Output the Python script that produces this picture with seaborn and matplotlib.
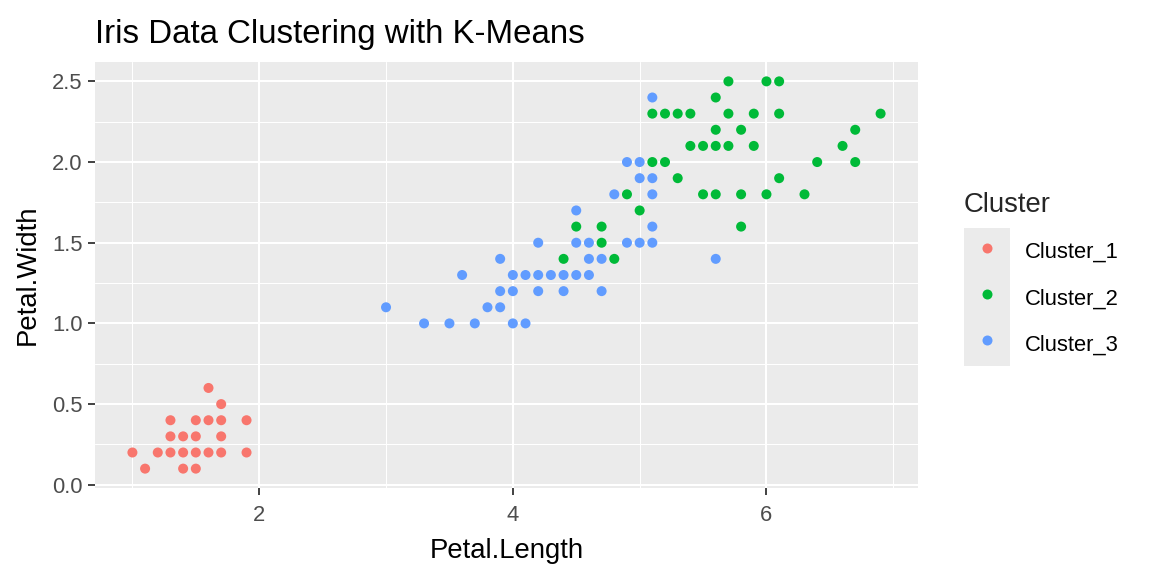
import numpy as np
import pandas as pd
import matplotlib
matplotlib.use("Agg")
import matplotlib.pyplot as plt
import seaborn as sns
from matplotlib.ticker import MultipleLocator
from matplotlib.patches import Rectangle

# points (petal length, petal width) per cluster
c1_length = [1.0, 1.1, 1.2, 1.3, 1.3, 1.3, 1.4, 1.4, 1.4, 1.5, 1.5, 1.5, 1.5,
             1.6, 1.6, 1.6, 1.7, 1.7, 1.7, 1.7, 1.9, 1.9]
c1_width = [0.2, 0.1, 0.2, 0.2, 0.3, 0.4, 0.1, 0.2, 0.3, 0.1, 0.2, 0.3, 0.4,
            0.2, 0.4, 0.6, 0.2, 0.3, 0.4, 0.5, 0.2, 0.4]

c2_length = [4.4, 4.8, 4.7, 4.5, 4.7, 5.8, 5.0,
             4.9, 5.5, 5.6, 5.8, 6.0, 6.3, 5.3, 6.1,
             5.1, 5.2, 6.4, 6.7, 5.4, 5.5, 5.6, 5.7, 5.9, 6.6,
             5.6, 5.8, 6.7, 5.1, 5.2, 5.3, 5.4, 5.7, 5.9, 6.1, 6.9,
             5.6, 5.7, 6.0, 6.1]
c2_width = [1.4, 1.4, 1.5, 1.6, 1.6, 1.6, 1.7,
            1.8, 1.8, 1.8, 1.8, 1.8, 1.8, 1.9, 1.9,
            2.0, 2.0, 2.0, 2.0, 2.1, 2.1, 2.1, 2.1, 2.1, 2.1,
            2.2, 2.2, 2.2, 2.3, 2.3, 2.3, 2.3, 2.3, 2.3, 2.3, 2.3,
            2.4, 2.5, 2.5, 2.5]

c3_length = [3.3, 3.5, 3.7, 4.0, 4.1, 3.0, 3.8, 3.9,
             3.9, 4.0, 4.2, 4.4, 4.7,
             3.6, 4.0, 4.1, 4.2, 4.3, 4.4, 4.5, 4.6,
             3.9, 4.6, 4.7, 5.6, 4.2, 4.5, 4.6, 4.9, 5.0, 5.1,
             5.1, 4.5, 4.8, 5.1, 5.0, 5.1, 4.9, 5.0, 5.1]
c3_width = [1.0, 1.0, 1.0, 1.0, 1.0, 1.1, 1.1, 1.1,
            1.2, 1.2, 1.2, 1.2, 1.2,
            1.3, 1.3, 1.3, 1.3, 1.3, 1.3, 1.3, 1.3,
            1.4, 1.4, 1.4, 1.4, 1.5, 1.5, 1.5, 1.5, 1.5, 1.5,
            1.6, 1.7, 1.8, 1.8, 1.9, 1.9, 2.0, 2.0, 2.4]

cluster_names = ["Cluster_1", "Cluster_2", "Cluster_3"]
cluster_colors = ["#F8766D", "#00BA38", "#619CFF"]

df = pd.concat([
    pd.DataFrame({"Petal.Length": c1_length, "Petal.Width": c1_width, "Cluster": cluster_names[0]}),
    pd.DataFrame({"Petal.Length": c2_length, "Petal.Width": c2_width, "Cluster": cluster_names[1]}),
    pd.DataFrame({"Petal.Length": c3_length, "Petal.Width": c3_width, "Cluster": cluster_names[2]}),
])

sns.set_theme(style="darkgrid", rc={"axes.facecolor": "#EBEBEB", "grid.color": "white"})
plt.rcParams['font.family'] = ['Liberation Sans', 'DejaVu Sans']

W, H = 1152, 576
fig = plt.figure(figsize=(W / 100, H / 100), dpi=100)
fig.patch.set_facecolor("white")
ax = fig.add_axes([95 / W, 1 - 488 / H, (918 - 95) / W, (488 - 62) / H])

sns.scatterplot(data=df, x="Petal.Length", y="Petal.Width", hue="Cluster",
                hue_order=cluster_names, palette=cluster_colors, s=52,
                linewidth=0, ax=ax, zorder=3)

ax.set_xlim(0.705, 7.195)
ax.set_ylim(-0.02, 2.62)
ax.xaxis.set_major_locator(MultipleLocator(2))
ax.xaxis.set_minor_locator(MultipleLocator(1))
ax.yaxis.set_major_locator(MultipleLocator(0.5))
ax.yaxis.set_minor_locator(MultipleLocator(0.25))
ax.yaxis.set_major_formatter(matplotlib.ticker.FormatStrFormatter('%.1f'))
ax.grid(which="major", color="white", lw=1.5)
ax.grid(which="minor", color="white", lw=0.75)
ax.set_axisbelow(True)
for sp in ax.spines.values():
    sp.set_visible(False)
ax.tick_params(which="major", direction="out", length=5, width=1.3, color="#333333",
               labelsize=15.8, labelcolor="#4D4D4D", bottom=True, left=True)
ax.tick_params(axis="x", which="major", pad=7)
ax.tick_params(axis="y", which="major", pad=4)
ax.tick_params(which="minor", length=0)

ax.set_xlabel("Petal.Length", fontsize=19.8, color="black", labelpad=9)
ax.set_ylabel("Petal.Width", fontsize=19.8, color="black", labelpad=8)
ax.set_title("Iris Data Clustering with K-Means", fontsize=23.8, loc="left", pad=13.5, color="black")

# legend key background (ggplot style)
fig.patches.append(Rectangle((964 / W, 1 - 366 / H), 46 / W, 138 / H,
                             transform=fig.transFigure, facecolor="#EBEBEB",
                             edgecolor="none", zorder=-1))

leg = ax.legend(title="Cluster", loc="upper left", bbox_to_anchor=(964 / W, 1 - 192 / H),
                bbox_transform=fig.transFigure, frameon=False, borderpad=0,
                borderaxespad=0, fontsize=15.8, title_fontsize=19.8,
                handlelength=2.09, handleheight=1.54, labelspacing=0.87,
                handletextpad=0.68, alignment="left")
for t in leg.get_texts():
    t.set_color("black")
for h in leg.legend_handles:
    h.set_markersize(7.2)

fig.savefig("out.png", dpi=100)
